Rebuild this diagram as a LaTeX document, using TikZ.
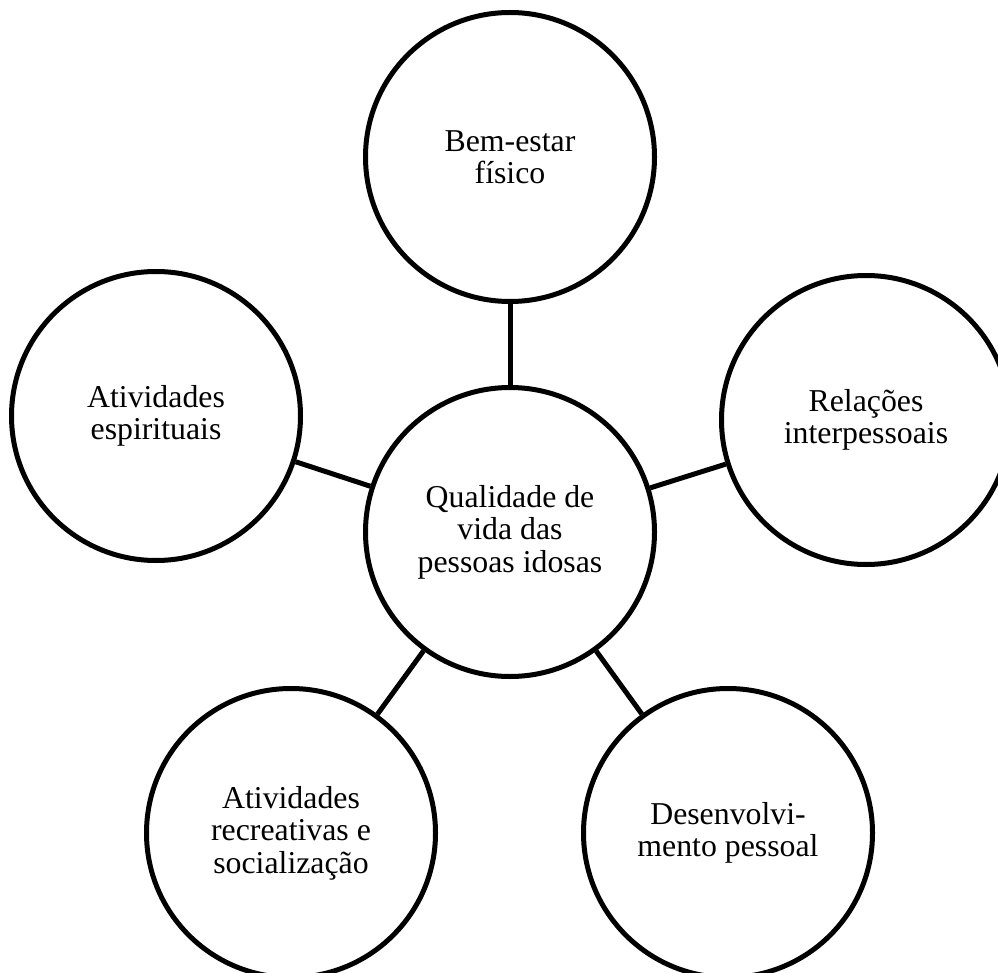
\documentclass[tikz,border=0pt]{standalone}
\usepackage{fontspec}
\setmainfont{Liberation Serif}
\begin{document}
\begin{tikzpicture}[x=1pt,y=-1pt,
  topic/.style={circle,draw=black,line width=5pt,fill=white,
    minimum size=289pt,inner sep=0pt,align=center,
    font=\fontsize{31.8}{32.4}\selectfont},
  link/.style={draw=black,line width=5pt}]
\useasboundingbox (0,0) rectangle (998,973);
\fill[white] (0,0) rectangle (998,973);
\clip (0,0) rectangle (998,973);

% central theme
\node[topic] (core) at (510,532) {Qualidade de\\vida das\\pessoas idosas};

% surrounding dimensions
\node[topic] (fisico)    at (510,157) {Bem-estar\\físico};
\node[topic] (espirit)   at (156,416) {Atividades\\espirituais};
\node[topic] (relacoes)  at (866,420) {Relações\\interpessoais};
\node[topic] (recreat)   at (291,833) {Atividades\\recreativas e\\socialização};
\node[topic] (desenv)    at (728,833) {Desenvolvi-\\mento pessoal};

% spokes
\draw[link] (core) -- (fisico);
\draw[link] (core) -- (espirit);
\draw[link] (core) -- (relacoes);
\draw[link] (core) -- (recreat);
\draw[link] (core) -- (desenv);
\end{tikzpicture}
\end{document}
